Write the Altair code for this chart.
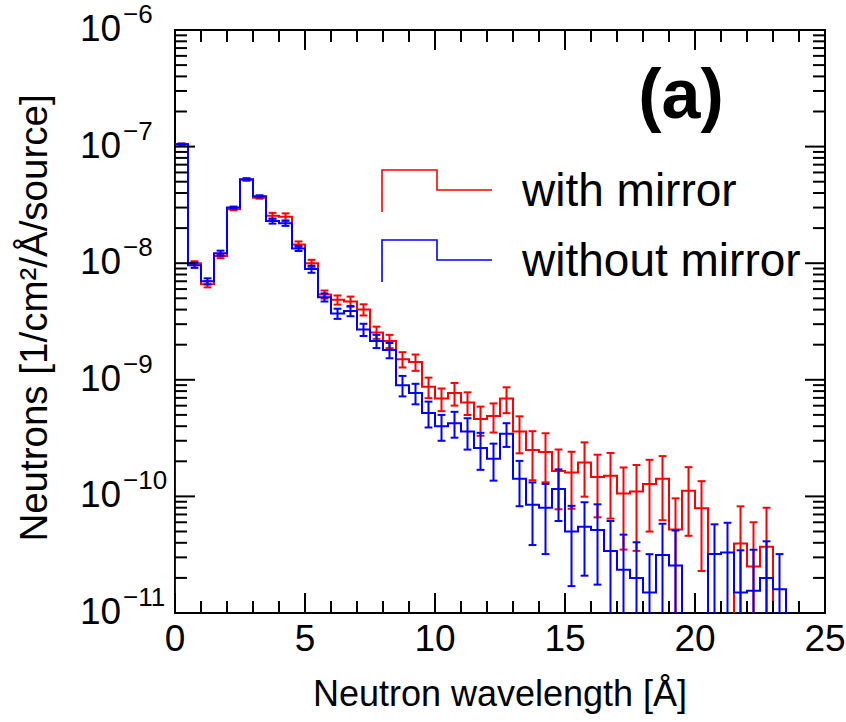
import altair as alt
import pandas as pd

# Neutron flux per 0.5 Å wavelength bin (bins start at 0 Å), in 1/cm^2/Å/source.
BIN_WIDTH = 0.5
with_mirror = [
    1.05e-7, 1.0e-8, 6.6e-9, 1.15e-8, 2.9e-8, 5.2e-8, 3.65e-8, 2.55e-8,
    2.5e-8, 1.45e-8, 1.0e-8, 5.4e-9, 4.85e-9, 4.7e-9, 4.0e-9, 2.55e-9,
    2.15e-9, 1.5e-9, 1.42e-9, 8.7e-10, 6.9e-10, 7.7e-10, 6.4e-10, 4.6e-10,
    4.9e-10, 6.9e-10, 3.6e-10, 2.5e-10, 2.4e-10, 1.65e-10, 1.6e-10, 1.95e-10,
    1.47e-10, 1.5e-10, 1.06e-10, 1.1e-10, 1.28e-10, 1.42e-10, 5.2e-11, 1.12e-10,
    7.9e-11, 0.0, 0.0, 3.95e-11, 2.5e-11, 3.7e-11,
]
# relative statistical error of each bin
with_mirror_err = [
    0.01, 0.04, 0.06, 0.04, 0.02, 0.02, 0.02, 0.06,
    0.07, 0.06, 0.07, 0.08, 0.09, 0.10, 0.11, 0.12,
    0.13, 0.15, 0.16, 0.20, 0.22, 0.22, 0.22, 0.28,
    0.28, 0.25, 0.35, 0.45, 0.45, 0.53, 0.51, 0.49,
    0.55, 0.57, 0.67, 0.69, 0.61, 0.56, 0.85, 0.59,
    0.71, 0.0, 0.0, 1.08, 1.40, 1.16,
]
without_mirror = [
    1.05e-7, 9.6e-9, 7.0e-9, 1.22e-8, 3.0e-8, 5.25e-8, 3.75e-8, 2.3e-8,
    2.2e-8, 1.34e-8, 8.9e-9, 5.1e-9, 3.7e-9, 3.9e-9, 2.7e-9, 2.15e-9,
    1.8e-9, 9.0e-10, 7.7e-10, 5.2e-10, 4.0e-10, 4.25e-10, 3.6e-10, 2.6e-10,
    2.1e-10, 3.45e-10, 1.42e-10, 8.5e-11, 8.0e-11, 1.16e-10, 5.0e-11, 5.5e-11,
    5.15e-11, 3.4e-11, 2.35e-11, 2.0e-11, 1.5e-11, 3.15e-11, 2.55e-11, 0.0,
    0.0, 3.2e-11, 3.3e-11, 1.5e-11, 1.55e-11, 2.0e-11, 1.6e-11,
]
without_mirror_err = [
    0.01, 0.05, 0.06, 0.05, 0.02, 0.02, 0.02, 0.05,
    0.05, 0.05, 0.07, 0.08, 0.10, 0.10, 0.12, 0.13,
    0.15, 0.20, 0.20, 0.25, 0.25, 0.25, 0.30, 0.35,
    0.35, 0.23, 0.42, 0.55, 0.60, 0.47, 0.66, 0.62,
    0.66, 0.81, 1.00, 1.02, 1.13, 0.85, 1.00, 0.0,
    0.0, 0.80, 0.80, 1.30, 1.25, 1.06, 1.00,
]

series_names = ["with mirror", "without mirror"]
series_colors = ["#ff0000", "#0000ff"]

x_major = [0, 5, 10, 15, 20, 25]
x_minor = [v for v in range(0, 26) if v % 5 != 0]
decades = [-11, -10, -9, -8, -7, -6]
y_major = [10.0 ** d for d in decades]
y_minor = [m * 10.0 ** d for d in decades[:-1] for m in range(2, 10)]

FONT = "Liberation Sans"
W, H = 650, 583
FLOOR = 1e-12          # empty bins sit below the axis floor and get clipped
CAP = 0.15             # half width of error-bar caps, in Å

X_SCALE = alt.Scale(domain=[0, 25], nice=False, zero=False)
Y_SCALE = alt.Scale(type="log", domain=[1e-11, 1e-6], nice=False)
C_SCALE = alt.Scale(domain=series_names, range=series_colors)


def step_frame(name, vals):
    rows = [dict(series=name, i=0, x=0.0, y=FLOOR)]
    for k, v in enumerate(vals):
        rows.append(dict(series=name, i=k + 1, x=k * BIN_WIDTH, y=v if v > 0 else FLOOR))
    rows.append(dict(series=name, i=len(vals) + 1, x=len(vals) * BIN_WIDTH, y=FLOOR))
    return pd.DataFrame(rows)


def error_frame(name, vals, rel):
    rows = []
    for k, (v, r) in enumerate(zip(vals, rel)):
        if v <= 0:
            continue
        c = (k + 0.5) * BIN_WIDTH
        lo = v * (1 - r)
        rows.append(dict(series=name, c=c, cl=c - CAP, cr=c + CAP,
                         lo=lo if lo > 0 else FLOOR, hi=v * (1 + r), has_lo=lo > 0))
    return pd.DataFrame(rows)


def series_layers(name, vals, rel):
    color = alt.Color("series:N", scale=C_SCALE, legend=None)
    steps = alt.Chart(step_frame(name, vals)).mark_line(
        interpolate="step-after", clip=True, strokeWidth=2
    ).encode(
        x=alt.X("x:Q", scale=X_SCALE, axis=None),
        y=alt.Y("y:Q", scale=Y_SCALE, axis=None),
        order="i:Q",
        color=color,
    )
    err = error_frame(name, vals, rel)
    bars = alt.Chart(err).mark_rule(clip=True, strokeWidth=2).encode(
        x=alt.X("c:Q", scale=X_SCALE, axis=None),
        y=alt.Y("lo:Q", scale=Y_SCALE, axis=None),
        y2="hi:Q",
        color=color,
    )
    caps_hi = alt.Chart(err).mark_rule(clip=True, strokeWidth=2).encode(
        x=alt.X("cl:Q", scale=X_SCALE, axis=None),
        x2="cr:Q",
        y=alt.Y("hi:Q", scale=Y_SCALE, axis=None),
        color=color,
    )
    caps_lo = alt.Chart(err[err["has_lo"]]).mark_rule(clip=True, strokeWidth=2).encode(
        x=alt.X("cl:Q", scale=X_SCALE, axis=None),
        x2="cr:Q",
        y=alt.Y("lo:Q", scale=Y_SCALE, axis=None),
        color=color,
    )
    return [steps, bars, caps_hi, caps_lo]


def x_ticks(values, length):
    df = pd.DataFrame({"v": values})
    base = alt.Chart(df).mark_rule(color="black", strokeWidth=2)
    enc_x = alt.X("v:Q", scale=X_SCALE, axis=None)
    bottom = base.encode(x=enc_x, y=alt.value(H), y2=alt.value(H - length))
    top = base.encode(x=enc_x, y=alt.value(0), y2=alt.value(length))
    return [bottom, top]


def y_ticks(values, length):
    df = pd.DataFrame({"v": values})
    base = alt.Chart(df).mark_rule(color="black", strokeWidth=2)
    enc_y = alt.Y("v:Q", scale=Y_SCALE, axis=None)
    left = base.encode(y=enc_y, x=alt.value(0), x2=alt.value(length))
    right = base.encode(y=enc_y, x=alt.value(W), x2=alt.value(W - length))
    return [left, right]


layers = []
layers += series_layers("with mirror", with_mirror, with_mirror_err)
layers += series_layers("without mirror", without_mirror, without_mirror_err)
layers += x_ticks(x_major, 20) + x_ticks(x_minor, 12)
layers += y_ticks(y_major, 20) + y_ticks(y_minor, 12)

# tick labels
x_lab = pd.DataFrame({"v": x_major, "t": [str(v) for v in x_major]})
layers.append(
    alt.Chart(x_lab).mark_text(font=FONT, fontSize=37, align="center", baseline="middle", color="black")
    .encode(x=alt.X("v:Q", scale=X_SCALE, axis=None), y=alt.value(H + 27), text="t:N")
)
y_lab = pd.DataFrame({"v": y_major, "e": ["\u2212" + str(-d) for d in decades]})
layers.append(
    alt.Chart(y_lab).mark_text(font=FONT, fontSize=37, align="left", baseline="middle", color="black")
    .encode(y=alt.Y("v:Q", scale=Y_SCALE, axis=None), x=alt.value(-95), text=alt.value("10"))
)
layers.append(
    alt.Chart(y_lab).mark_text(font=FONT, fontSize=26, align="left", baseline="middle", dy=-15, color="black")
    .encode(y=alt.Y("v:Q", scale=Y_SCALE, axis=None), x=alt.value(-52), text="e:N")
)

# axis titles
one = pd.DataFrame({"k": [0]})
layers.append(
    alt.Chart(one).mark_text(font=FONT, fontSize=36, align="center", baseline="alphabetic", color="black")
    .encode(x=alt.value(W / 2), y=alt.value(676), text=alt.value("Neutron wavelength [Å]"))
)
layers.append(
    alt.Chart(one).mark_text(font=FONT, fontSize=38.5, align="center", baseline="middle", angle=270, color="black")
    .encode(x=alt.value(-140), y=alt.value(288), text=alt.value("Neutrons [1/cm²/Å/source]"))
)
layers.append(
    alt.Chart(one).mark_text(font=FONT, fontSize=70, fontWeight="bold", align="center",
                             baseline="alphabetic", color="black")
    .encode(x=alt.value(506), y=alt.value(88), text=alt.value("(a)"))
)

# legend: a small step glyph per series followed by its name
LEG_X, LEG_Y, LEG_ROW, LEG_HALF, LEG_RISE, LEG_DROP = 207, 182, 70, 55, 42, 20
leg_rows = []
leg_text = []
for n, name in enumerate(series_names):
    base_y = LEG_Y + n * LEG_ROW
    pts = [
        (LEG_X, base_y),
        (LEG_X, base_y - LEG_RISE),
        (LEG_X + LEG_HALF, base_y - LEG_RISE),
        (LEG_X + LEG_HALF, base_y - LEG_RISE + LEG_DROP),
        (LEG_X + 2 * LEG_HALF, base_y - LEG_RISE + LEG_DROP),
    ]
    for j, (px, py) in enumerate(pts):
        leg_rows.append(dict(series=name, j=j, px=px, py=py))
    leg_text.append(dict(series=name, px=LEG_X + 2 * LEG_HALF + 30, py=base_y - 6, t=name))

layers.append(
    alt.Chart(pd.DataFrame(leg_rows)).mark_line(strokeWidth=1.6)
    .encode(x=alt.X("px:Q", scale=None), y=alt.Y("py:Q", scale=None), order="j:Q",
            color=alt.Color("series:N", scale=C_SCALE, legend=None))
)
layers.append(
    alt.Chart(pd.DataFrame(leg_text)).mark_text(font=FONT, fontSize=46, align="left",
                                                baseline="alphabetic", color="black")
    .encode(x=alt.X("px:Q", scale=None), y=alt.Y("py:Q", scale=None), text="t:N")
)

chart = (
    alt.layer(*layers)
    .properties(
        width=W,
        height=H,
        padding={"left": 175, "top": 30, "right": 21, "bottom": 109},
        autosize=alt.AutoSizeParams(type="none"),
        background="white",
    )
    .configure_view(stroke="black", strokeWidth=2)
)

chart.save("out.html", embed_options={"renderer": "svg", "actions": False})
